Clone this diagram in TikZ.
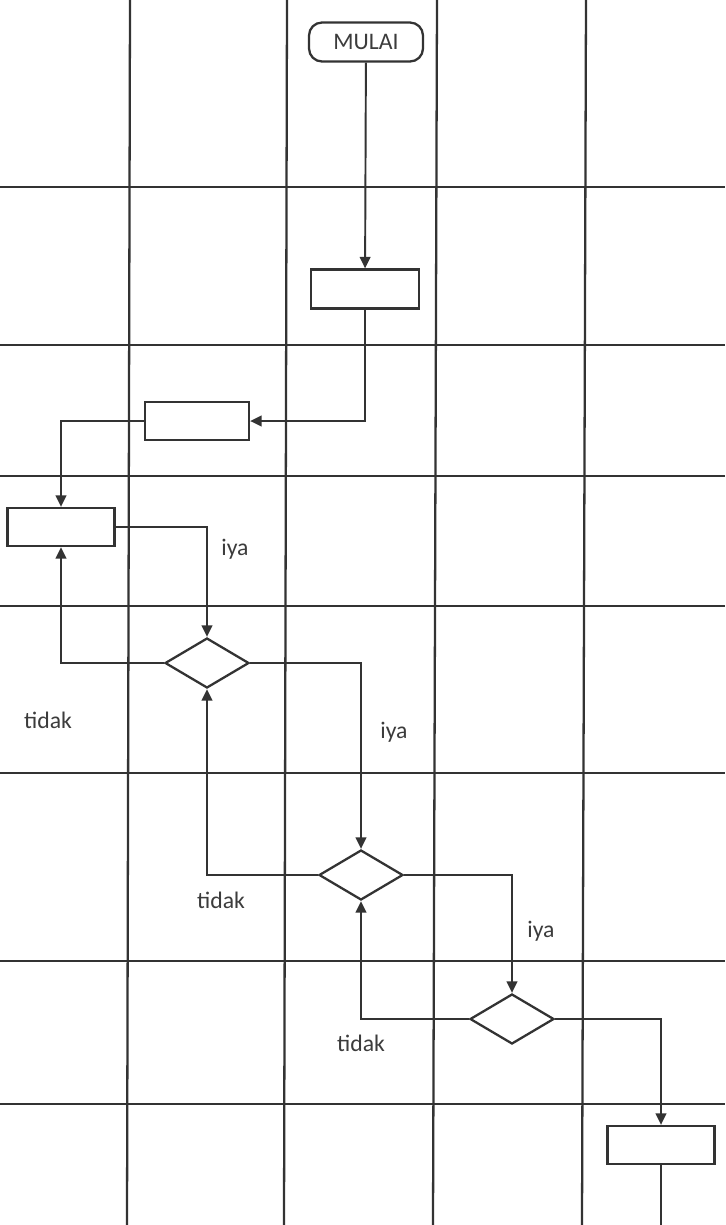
\documentclass[tikz,border=0pt]{standalone}
\usepackage{fontspec}
\setmainfont{Carlito}
\usetikzlibrary{shapes.geometric,arrows.meta}
\definecolor{ink}{HTML}{333333}
\definecolor{txt}{HTML}{3c3c3c}
\tikzset{
  grid/.style={draw=ink,line width=1.3pt},
  proc/.style={draw=ink,line width=1.3pt,rectangle,inner sep=0pt,minimum width=2.14cm,minimum height=0.76cm},
  term/.style={draw=ink,line width=1.3pt,rectangle,rounded corners=0.26cm,inner sep=0pt,minimum width=2.28cm,minimum height=0.78cm,font=\fontsize{13.5}{15}\selectfont,text=txt},
  dec/.style={draw=ink,line width=1.3pt,diamond,inner sep=0pt,minimum width=1.68cm,minimum height=1.0cm},
  conn/.style={draw=ink,line width=1.1pt,-{Triangle[length=6.5pt,width=6pt]}},
  plain/.style={draw=ink,line width=1.1pt},
  lbl/.style={text=txt,font=\fontsize{13.5}{15}\selectfont,inner sep=0pt}
}
\begin{document}
\begin{tikzpicture}[x=0.02cm,y=-0.02cm]
\useasboundingbox (0,0) rectangle (725,1225);
\fill[white] (0,0) rectangle (725,1225);
% grid
\foreach \yy in {187,345,476,606,773,961,1104}{
  \draw[grid] (0,\yy) -- (725,\yy);
}
\draw[grid] (130,0) -- (127,1225);
\draw[grid] (287,0) -- (284,1225);
\draw[grid] (437,0) -- (433,1225);
\draw[grid] (586,0) -- (582,1225);
% nodes
\node[term,fill=white] (mulai) at (366,42) {MULAI};
\node[proc,fill=white,minimum width=2.16cm,minimum height=0.78cm] (b1) at (365,289) {};
\node[proc,fill=white,minimum width=2.08cm] (b2) at (197,421) {};
\node[proc,fill=white] (b3) at (61,527) {};
\node[dec,fill=white] (d1) at (207,663) {};
\node[dec,fill=white] (d2) at (361,875) {};
\node[dec,fill=white] (d3) at (512,1019) {};
\node[proc,fill=white] (b4) at (661,1145) {};
\coordinate (end) at (661,1225);
% connectors
\draw[conn] (mulai) -- (b1);
\draw[conn] (b1.south) |- (b2.east);
\draw[conn] (b2.west) -| (b3.north);
\draw[conn] (b3.east) -| (d1.north);
\draw[conn] (d1.west) -| (b3.south);
\draw[conn] (d1.east) -| (d2.north);
\draw[conn] (d2.west) -| (d1.south);
\draw[conn] (d2.east) -| (d3.north);
\draw[conn] (d3.west) -| (d2.south);
\draw[conn] (d3.east) -| (b4.north);
\draw[plain] (b4.south) -- (end);
% labels
\node[lbl] (l1) at (235,549) {iya};
\node[lbl] (l2) at (48,720) {tidak};
\node[lbl] (l3) at (394,732) {iya};
\node[lbl] (l4) at (221,900) {tidak};
\node[lbl] (l5) at (541,931) {iya};
\node[lbl] (l6) at (361,1043) {tidak};
\end{tikzpicture}
\end{document}
